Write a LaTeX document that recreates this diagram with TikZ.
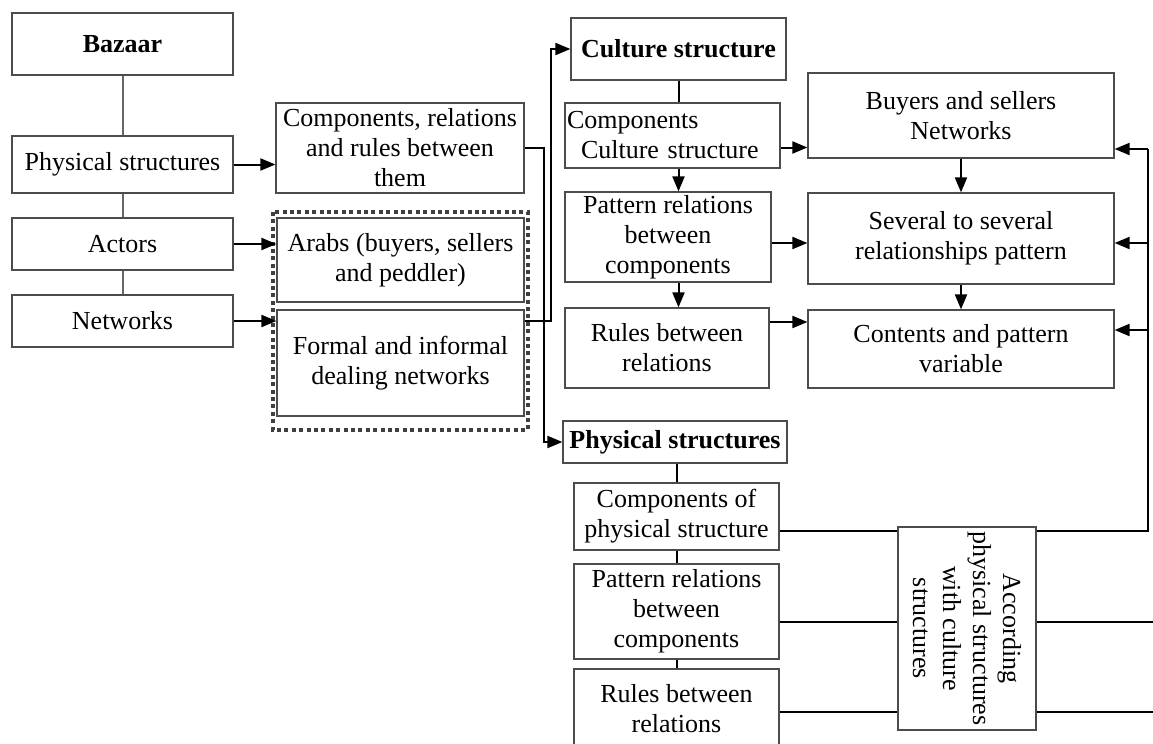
\documentclass[tikz,border=0pt]{standalone}
\usepackage{fontspec}
\setmainfont{Liberation Serif}
\usetikzlibrary{arrows.meta}

\begin{document}
\begin{tikzpicture}[x=0.5pt, y=-0.5pt,
    box/.style={draw=black!70, line width=0.6pt, rectangle, inner sep=1pt, align=center, font=\fontsize{13}{15}\selectfont},
    boldbox/.style={box, font=\fontsize{13}{15}\selectfont\bfseries},
    arrow/.style={draw, ->, >={Triangle[length=7.5pt, width=6pt]}, line width=1pt},
    link/.style={draw, line width=1pt},
    graylink/.style={draw=black!60, line width=1pt},
    group/.style={draw=black!75, line width=2pt, dash pattern=on 2pt off 1.7pt}
]
    \useasboundingbox (0,0) rectangle (1153,744);
    \clip (0,0) rectangle (1153,744);

    % left column
    \node (bazaar) [boldbox, minimum width=110.5pt, minimum height=31pt] at (122.5,44) {Bazaar};
    \node (physical) [box, minimum width=110.5pt, minimum height=28.5pt] at (122.5,164.5) {Physical structures};
    \node (actors) [box, minimum width=110.5pt, minimum height=26pt] at (122.5,244) {Actors};
    \node (networks) [box, minimum width=110.5pt, minimum height=26pt] at (122.5,321) {Networks};

    % middle column
    \node (comprel) [box, minimum width=124pt, minimum height=45pt] at (400,148) {Components, relations\\and rules between\\them};
    \node (arabs) [box, minimum width=123.5pt, minimum height=42pt] at (400.5,260) {Arabs (buyers, sellers\\and peddler)};
    \node (formal) [box, minimum width=123.5pt, minimum height=53pt] at (400.5,363) {Formal and informal\\dealing networks};
    \draw [group] (273,212) rectangle (528,430);

    % culture structure
    \node (culture) [boldbox, minimum width=107.5pt, minimum height=31pt] at (678.5,49) {Culture structure};
    \node (compcult) [box, align=left, text width=105.5pt, minimum height=32.5pt] at (672.5,135.5) {Components\\\hspace*{7pt}Culture structure};
    \node (patcult) [box, minimum width=103pt, minimum height=45pt] at (668,237) {Pattern relations\\between\\components};
    \node (rulescult) [box, minimum width=102pt, minimum height=40pt] at (667,348) {Rules between\\relations};

    \node (buyers) [box, minimum width=153pt, minimum height=42.5pt] at (961,115.5) {Buyers and sellers\\Networks};
    \node (several) [box, minimum width=153pt, minimum height=45.5pt] at (961,238.5) {Several to several\\relationships pattern};
    \node (contents) [box, minimum width=153pt, minimum height=39pt] at (961,349) {Contents and pattern\\variable};

    % physical structures
    \node (physb) [boldbox, minimum width=112pt, minimum height=21pt] at (675,442) {Physical structures};
    \node (compphys) [box, minimum width=102.5pt, minimum height=33.5pt] at (676.5,516.5) {Components of\\physical structure};
    \node (patphys) [box, minimum width=102.5pt, minimum height=47.5pt] at (676.5,611.5) {Pattern relations\\between\\components};
    \node (rulesphys) [box, minimum width=102.5pt, minimum height=39.5pt] at (676.5,708.5) {Rules between\\relations};

    \coordinate (railtop) at (1148,149);
    \coordinate (railmid) at (1148,243);
    \coordinate (raillow) at (1148,330);
    \coordinate (edgemid) at (1153,622);
    \coordinate (edgelow) at (1153,712);

    \path [graylink] (bazaar) -- (physical);
    \path [graylink] (physical) -- (actors);
    \path [graylink] (actors) -- (networks);

    \path [arrow] (physical.east) -- (physical.east -| comprel.west);
    \path [arrow] (actors.east) -- (actors.east -| arabs.west);
    \path [arrow] (networks.east) -- (networks.east -| formal.west);

    \path [arrow] (comprel.east) -- ++(19,0) |- (physb.west);
    \path [arrow] (formal.east |- networks.east) -- ++(26,0) |- (culture.west);

    \path [link] (culture.south) -- (culture.south |- compcult.north);
    \path [arrow] (compcult.south -| culture.south) -- (patcult.north -| culture.south);
    \path [arrow] (patcult.south -| culture.south) -- (rulescult.north -| culture.south);

    \path [arrow] ([yshift=-6pt]compcult.east) -- ([yshift=-6pt]compcult.east -| buyers.west);
    \path [arrow] ([yshift=-3pt]patcult.east) -- ([yshift=-3pt]patcult.east -| several.west);
    \path [arrow] ([yshift=13pt]rulescult.east) -- ([yshift=13pt]rulescult.east -| contents.west);
    \path [arrow] (buyers) -- (several);
    \path [arrow] (several) -- (contents);

    \path [link] (compphys.north) -- (compphys.north |- physb.south);
    \path [link] (compphys) -- (patphys);
    \path [link] (patphys) -- (rulesphys);

    \path [link] ([yshift=-7pt]compphys.east) -| (railtop);
    \path [arrow] (railtop) -- (railtop -| buyers.east);
    \path [arrow] (railmid) -- (railmid -| several.east);
    \path [arrow] (raillow) -- (raillow -| contents.east);
    \path [link] (patphys.east |- edgemid) -- (edgemid);
    \path [link] (rulesphys.east |- edgelow) -- (edgelow);

    \node (according) [box, fill=white, rotate=-90, minimum width=101.5pt, minimum height=69pt] at (967,628.5) {According\\physical structures\\with culture\\structures};
\end{tikzpicture}
\end{document}
